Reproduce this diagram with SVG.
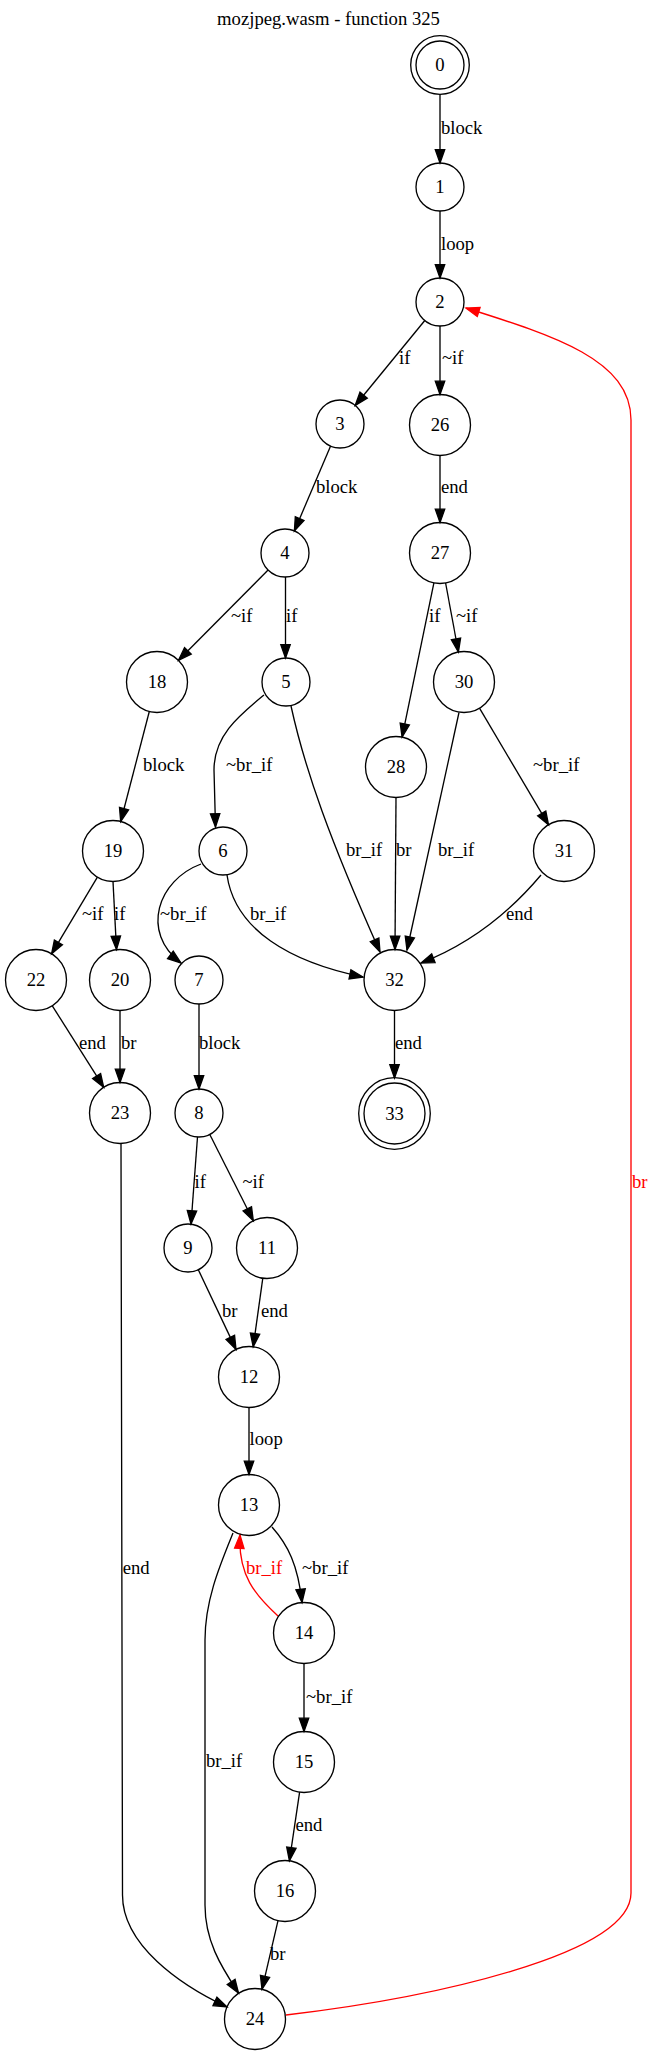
<svg xmlns="http://www.w3.org/2000/svg" width="657" height="2056" viewBox="0 0 657 2056">
<style>
text{font-family:"Liberation Serif","Times New Roman",serif;font-size:18.67px;fill:#000}
.n ellipse{fill:none;stroke:#000;stroke-width:1.33}
.n text{text-anchor:middle}
.e path{fill:none;stroke:#000;stroke-width:1.33;marker-end:url(#a)}
.e path.r{stroke:#f00;marker-end:url(#ar)}
text.r{fill:#f00}
</style>
<defs>
<marker id="a" markerUnits="userSpaceOnUse" markerWidth="16" markerHeight="12" refX="14.3" refY="5.7" orient="auto" overflow="visible"><path d="M1,1 L14.3,5.7 L1,10.4 Z" fill="#000" stroke="#000" stroke-width="1.33"/></marker>
<marker id="ar" markerUnits="userSpaceOnUse" markerWidth="16" markerHeight="12" refX="14.3" refY="5.7" orient="auto" overflow="visible"><path d="M1,1 L14.3,5.7 L1,10.4 Z" fill="#f00" stroke="#f00" stroke-width="1.33"/></marker>
</defs>
<rect width="657" height="2056" fill="#fff"/>
<text x="328.5" y="25" text-anchor="middle">mozjpeg.wasm - function 325</text>
<g id="connectors" class="e">
<path d="M440,94.5 L440,163"/>
<path d="M440,211 L440,278"/>
<path d="M424.8,320.5 L355.2,405.5"/>
<path d="M440,326 L440,394.5"/>
<path d="M330.6,446.1 L294.4,530.9"/>
<path d="M440,455.5 L440,522.5"/>
<path d="M268.1,570 L178.5,660.3"/>
<path d="M285.5,577 L285.5,658"/>
<path d="M433.9,582.9 L402.1,737.1"/>
<path d="M445.6,583 L458.4,652"/>
<path d="M149.3,711.5 L120.7,821.5"/>
<path d="M264,695 C240,715 214,735 214,770 L215.5,827"/>
<path d="M291,706 C305,770 330,840 380,952"/>
<path d="M396,797.5 L395,949.5"/>
<path d="M459,712.5 L407,950"/>
<path d="M479.5,708.2 L548.5,824.8"/>
<path d="M541,875 C520,900 480,940 421,963"/>
<path d="M97.4,877.2 L51.6,953.8"/>
<path d="M113,881.5 L116.5,949.5"/>
<path d="M201,864 C158,880 140,932 181,963"/>
<path d="M227,875 C235,930 290,962 363,977"/>
<path d="M52.3,1005.8 L103.7,1087.2"/>
<path d="M120,1010.5 L120,1082.5"/>
<path d="M199,1004 L199,1089"/>
<path d="M394.5,1010.5 L394.5,1078"/>
<path d="M197.5,1137 L191,1224"/>
<path d="M209.8,1134.5 L253.3,1220.7"/>
<path d="M198.3,1269.7 L236,1349.4"/>
<path d="M262.8,1278.2 L253.2,1346.8"/>
<path d="M249,1407.5 L249,1474.5"/>
<path d="M272,1527 C288,1545 298,1565 302,1602.5"/>
<path class="r" d="M278,1616 C255,1595 238,1575 240,1535"/>
<path d="M233,1533 C220,1565 205,1600 205,1640 L205,1905 C205,1940 220,1965 238.5,1993"/>
<path d="M121,1143.5 L122.5,1895 C122.5,1945 180,1985 227,2007"/>
<path d="M304,1663.5 L304,1731.5"/>
<path d="M299.6,1792.2 L289.4,1860.8"/>
<path d="M278,1920.7 L262,1989.3"/>
<path class="r" d="M286,2015 C430,1998 631,1955 631,1893 L631,420 C631,360 555,336 466,308"/>
<text x="441" y="133.5">block</text>
<text x="441" y="249.5">loop</text>
<text x="399" y="364">if</text>
<text x="442" y="364">~if</text>
<text x="316" y="493">block</text>
<text x="441" y="493">end</text>
<text x="231" y="622">~if</text>
<text x="286" y="622">if</text>
<text x="429" y="622">if</text>
<text x="456" y="622">~if</text>
<text x="143" y="771">block</text>
<text x="226" y="771">~br_if</text>
<text x="533" y="771">~br_if</text>
<text x="346" y="856">br_if</text>
<text x="396" y="856">br</text>
<text x="438" y="856">br_if</text>
<text x="82" y="920">~if</text>
<text x="114" y="920">if</text>
<text x="160" y="920">~br_if</text>
<text x="250" y="920">br_if</text>
<text x="506" y="920">end</text>
<text x="79" y="1049">end</text>
<text x="121" y="1049">br</text>
<text x="199" y="1049">block</text>
<text x="395" y="1049">end</text>
<text x="194.5" y="1188">if</text>
<text x="242.4" y="1188">~if</text>
<text class="r" x="632" y="1188">br</text>
<text x="222" y="1317">br</text>
<text x="261" y="1317">end</text>
<text x="249.6" y="1445">loop</text>
<text x="122.7" y="1573.5">end</text>
<text class="r" x="246" y="1573.5">br_if</text>
<text x="302" y="1573.5">~br_if</text>
<text x="306" y="1703">~br_if</text>
<text x="206" y="1767">br_if</text>
<text x="295.4" y="1831">end</text>
<text x="270" y="1960">br</text>
</g>
<g id="node0" class="n"><ellipse cx="440" cy="65" rx="24" ry="24"/><ellipse cx="440" cy="65" rx="29.3" ry="29.3"/><text x="440" y="71">0</text></g>
<g id="node1" class="n"><ellipse cx="440" cy="187" rx="24" ry="24"/><text x="440" y="193">1</text></g>
<g id="node2" class="n"><ellipse cx="440" cy="302" rx="24" ry="24"/><text x="440" y="308">2</text></g>
<g id="node3" class="n"><ellipse cx="340" cy="424" rx="24" ry="24"/><text x="340" y="430">3</text></g>
<g id="node26" class="n"><ellipse cx="440" cy="425" rx="30.5" ry="30.5"/><text x="440" y="431">26</text></g>
<g id="node4" class="n"><ellipse cx="285" cy="553" rx="24" ry="24"/><text x="285" y="559">4</text></g>
<g id="node27" class="n"><ellipse cx="440" cy="553" rx="30.5" ry="30.5"/><text x="440" y="559">27</text></g>
<g id="node18" class="n"><ellipse cx="157" cy="682" rx="30.5" ry="30.5"/><text x="157" y="688">18</text></g>
<g id="node5" class="n"><ellipse cx="286" cy="682" rx="24" ry="24"/><text x="286" y="688">5</text></g>
<g id="node30" class="n"><ellipse cx="464" cy="682" rx="30.5" ry="30.5"/><text x="464" y="688">30</text></g>
<g id="node28" class="n"><ellipse cx="396" cy="767" rx="30.5" ry="30.5"/><text x="396" y="773">28</text></g>
<g id="node19" class="n"><ellipse cx="113" cy="851" rx="30.5" ry="30.5"/><text x="113" y="857">19</text></g>
<g id="node6" class="n"><ellipse cx="223" cy="851" rx="24" ry="24"/><text x="223" y="857">6</text></g>
<g id="node31" class="n"><ellipse cx="564" cy="851" rx="30.5" ry="30.5"/><text x="564" y="857">31</text></g>
<g id="node22" class="n"><ellipse cx="36" cy="980" rx="30.5" ry="30.5"/><text x="36" y="986">22</text></g>
<g id="node20" class="n"><ellipse cx="120" cy="980" rx="30.5" ry="30.5"/><text x="120" y="986">20</text></g>
<g id="node7" class="n"><ellipse cx="199" cy="980" rx="24" ry="24"/><text x="199" y="986">7</text></g>
<g id="node32" class="n"><ellipse cx="394.5" cy="980" rx="30.5" ry="30.5"/><text x="394.5" y="986">32</text></g>
<g id="node23" class="n"><ellipse cx="120" cy="1113" rx="30.5" ry="30.5"/><text x="120" y="1119">23</text></g>
<g id="node8" class="n"><ellipse cx="199" cy="1113" rx="24" ry="24"/><text x="199" y="1119">8</text></g>
<g id="node33" class="n"><ellipse cx="394.5" cy="1113.5" rx="30.5" ry="30.5"/><ellipse cx="394.5" cy="1113.5" rx="35.8" ry="35.8"/><text x="394.5" y="1119.5">33</text></g>
<g id="node9" class="n"><ellipse cx="188" cy="1248" rx="24" ry="24"/><text x="188" y="1254">9</text></g>
<g id="node11" class="n"><ellipse cx="267" cy="1248" rx="30.5" ry="30.5"/><text x="267" y="1254">11</text></g>
<g id="node12" class="n"><ellipse cx="249" cy="1377" rx="30.5" ry="30.5"/><text x="249" y="1383">12</text></g>
<g id="node13" class="n"><ellipse cx="249" cy="1505" rx="30.5" ry="30.5"/><text x="249" y="1511">13</text></g>
<g id="node14" class="n"><ellipse cx="304" cy="1633" rx="30.5" ry="30.5"/><text x="304" y="1639">14</text></g>
<g id="node15" class="n"><ellipse cx="304" cy="1762" rx="30.5" ry="30.5"/><text x="304" y="1768">15</text></g>
<g id="node16" class="n"><ellipse cx="285" cy="1891" rx="30.5" ry="30.5"/><text x="285" y="1897">16</text></g>
<g id="node24" class="n"><ellipse cx="255" cy="2019" rx="30.5" ry="30.5"/><text x="255" y="2025">24</text></g>
</svg>
